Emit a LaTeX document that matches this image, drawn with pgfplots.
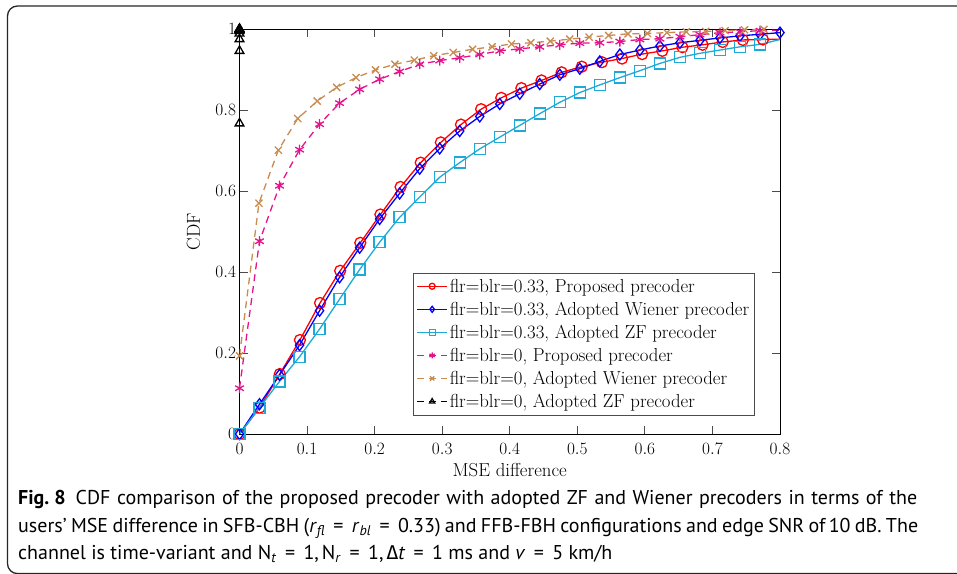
\documentclass[border=0pt]{standalone}
\usepackage{fontspec}
\usepackage{pgfplots}
\pgfplotsset{compat=1.18}
\newfontfamily\capfont{PT Sans}
\newfontfamily\capgreek{Fira Sans}
\definecolor{zfcyan}{RGB}{30,170,215}
\definecolor{pmag}{RGB}{230,20,140}
\definecolor{wbrown}{RGB}{200,140,80}
\newcommand{\tf}{\fontsize{18.8}{22}\selectfont}
\newcommand{\lf}{\fontsize{18.8}{22}\selectfont}
\newcommand{\eq}{\hspace{0.42em}=\hspace{0.42em}}
\begin{document}
\begin{tikzpicture}
\useasboundingbox (0pt,0pt) rectangle (957pt,573pt);
\draw[line width=1.3pt, color=black!85, rounded corners=10pt] (1100pt,-0.6pt) -- (7.5pt,-0.6pt) -- (7.5pt,567pt) -- (1100pt,567pt);
\begin{axis}[
  at={(239.5pt,139pt)}, anchor=south west,
  width=540.5pt, height=405pt, scale only axis,
  xmin=0, xmax=0.8, ymin=0, ymax=1,
  xtick={0,0.1,0.2,0.3,0.4,0.5,0.6,0.7,0.8},
  ytick={0,0.2,0.4,0.6,0.8,1},
  major tick length=8pt,
  axis line style={line width=0.9pt},
  every tick/.style={line width=0.8pt, black!70},
  tick label style={font=\tf},
  xticklabel style={yshift=-5.5pt},
  label style={font=\tf},
  xlabel={MSE difference}, ylabel={CDF},
  xlabel style={at={(axis description cs:0.5,-0.089)}, anchor=center},
  ylabel style={at={(axis description cs:-0.085,0.5)}, anchor=center},
  legend cell align=left,
  legend style={at={(rel axis cs:0.953,0.046)}, anchor=south east, font=\lf, draw=black!70, line width=0.8pt, row sep=4.3pt, inner xsep=3pt, inner ysep=4pt},
  legend image code/.code={\draw[mark repeat=2,mark phase=2,#1] plot coordinates {(0pt,0pt) (15pt,0pt) (30pt,0pt)};},
  legend image post style={mark size=3pt},
  every axis plot/.append style={line width=1.3pt},
]
% red: flr=blr=0.33 proposed
\addplot[red, mark=o, mark size=5.5pt] coordinates {
(0,0) (0.0298,0.065) (0.0596,0.148) (0.0894,0.232) (0.1192,0.3235) (0.149,0.403) (0.1788,0.472) (0.2086,0.542) (0.2384,0.610) (0.2682,0.670) (0.298,0.720) (0.3278,0.764) (0.3576,0.802) (0.3874,0.830) (0.4172,0.854) (0.447,0.873) (0.4768,0.893) (0.5066,0.907) (0.5364,0.918) (0.5662,0.927) (0.596,0.938) (0.6258,0.946) (0.6556,0.955) (0.6854,0.961) (0.7152,0.968) (0.745,0.973) (0.7748,0.974)};
\addlegendentry{flr=blr=0.33, Proposed precoder}
% blue: Wiener
\addplot[blue, mark=diamond, mark size=5.5pt] coordinates {
(0,0) (0.0296,0.0735) (0.0593,0.146) (0.0889,0.2195) (0.1185,0.3045) (0.1481,0.387) (0.1778,0.460) (0.2074,0.531) (0.2370,0.594) (0.2667,0.655) (0.2963,0.705) (0.3259,0.748) (0.3556,0.784) (0.3852,0.815) (0.4148,0.840) (0.4444,0.864) (0.4741,0.887) (0.5037,0.902) (0.5333,0.920) (0.5630,0.937) (0.5926,0.948) (0.6222,0.958) (0.6519,0.966) (0.6815,0.972) (0.7111,0.978) (0.7407,0.983) (0.7704,0.987) (0.8,0.991)};
\addlegendentry{flr=blr=0.33, Adopted Wiener precoder}
% cyan: ZF
\addplot[zfcyan, mark=square, mark size=5.5pt] coordinates {
(0,0) (0.0296,0.065) (0.0593,0.130) (0.0889,0.1906) (0.1185,0.259) (0.1481,0.333) (0.1778,0.406) (0.2074,0.4735) (0.2370,0.535) (0.2667,0.585) (0.2963,0.634) (0.3259,0.670) (0.3556,0.704) (0.3852,0.733) (0.4148,0.762) (0.4444,0.791) (0.4741,0.819) (0.5037,0.843) (0.5333,0.862) (0.5630,0.880) (0.5926,0.897) (0.6222,0.915) (0.6519,0.930) (0.6815,0.940) (0.7111,0.948) (0.7407,0.956) (0.7704,0.962)};
\addlegendentry{flr=blr=0.33, Adopted ZF precoder}
% magenta: flr=0 proposed
\addplot[pmag, dash pattern=on 7pt off 5pt, mark=asterisk, mark size=5pt, mark options={solid}] coordinates {
(0,0.113) (0.0296,0.476) (0.0593,0.613) (0.0889,0.702) (0.1185,0.765) (0.1481,0.817) (0.1778,0.851) (0.2074,0.876) (0.2370,0.895) (0.2667,0.913) (0.2963,0.922) (0.3259,0.929) (0.3556,0.937) (0.3852,0.946) (0.4148,0.951) (0.4444,0.956) (0.4741,0.961) (0.5037,0.965) (0.5333,0.966) (0.5630,0.969) (0.5926,0.974) (0.6222,0.976) (0.6519,0.981) (0.6815,0.986) (0.7111,0.991) (0.7407,0.993) (0.7704,0.996)};
\addlegendentry{flr=blr=0, Proposed precoder}
% brown: flr=0 Wiener
\addplot[wbrown, dash pattern=on 7pt off 5pt, mark=x, mark size=5pt, mark options={solid}] coordinates {
(0,0.193) (0.0288,0.570) (0.0575,0.701) (0.0863,0.779) (0.115,0.822) (0.1438,0.856) (0.1725,0.880) (0.2013,0.899) (0.23,0.913) (0.2588,0.923) (0.2875,0.934) (0.3163,0.942) (0.345,0.950) (0.3738,0.956) (0.4025,0.963) (0.4313,0.966) (0.46,0.970) (0.4888,0.975) (0.5175,0.980) (0.5463,0.984) (0.575,0.988) (0.6038,0.989) (0.6325,0.991) (0.6613,0.993) (0.69,0.994) (0.7188,0.996) (0.7475,0.998) (0.7763,0.999)};
\addlegendentry{flr=blr=0, Adopted Wiener precoder}
% black: flr=0 ZF
\addplot[black, dash pattern=on 7pt off 5pt, mark=triangle, mark size=5pt, mark options={solid}] coordinates {
(0,0.767) (0,0.946) (0,0.975) (0,0.989) (0,0.995) (0,0.997) (0,0.998) (0,0.999) (0,1) (0,1)};
\addlegendentry{flr=blr=0, Adopted ZF precoder}
% line tails without markers
\addplot[red, forget plot] coordinates {(0.7748,0.974) (0.8,0.975)};
\addplot[zfcyan, forget plot] coordinates {(0.7704,0.962) (0.8,0.974)};
\addplot[pmag, dash pattern=on 7pt off 5pt, forget plot] coordinates {(0.7704,0.996) (0.8,0.997)};
\end{axis}
\begin{scope}[every node/.style={anchor=base west, inner sep=0pt, font=\capfont\fontsize{20}{23}\selectfont}]
\node at (18pt,69pt) {\makebox[899pt][s]{\textbf{Fig.\kern0.25em8}\hspace{0.5em}CDF comparison of the proposed precoder with adopted ZF and Wiener precoders in terms of the}};
\node at (18pt,41pt) {\makebox[900pt][s]{users’ MSE difference in SFB-CBH (\textit{r}\textsubscript{\textit{fl}}\eq\textit{r}\textsubscript{\textit{bl}}\eq0.33) and FFB-FBH configurations and edge SNR of\,10 dB. The}};
\node at (18pt,14pt) {channel is time-variant and N\textsubscript{\textit{t}}\eq1,\hspace{0.15em}N\textsubscript{\textit{r}}\eq1,\hspace{0.15em}{\capgreek Δ}\textit{t}\eq1 ms and \textit{v}\eq5 km/h};
\end{scope}
\end{tikzpicture}
\end{document}
